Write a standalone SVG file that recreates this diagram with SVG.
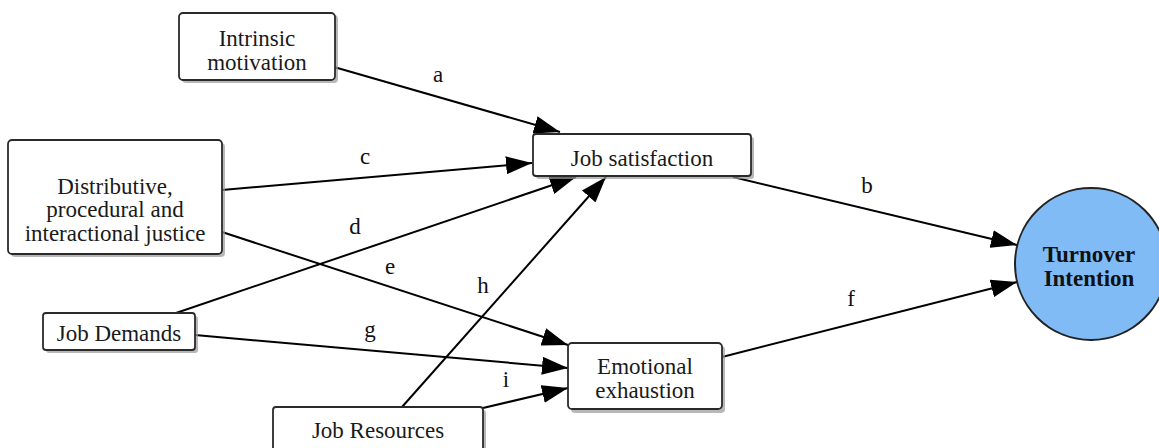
<svg xmlns="http://www.w3.org/2000/svg" width="1159" height="448" viewBox="0 0 1159 448">
<style>
.box{fill:#fff;stroke:#2a2a2a;stroke-width:1.8}
.sh{fill:#9a9a9a;opacity:0.7}
.t{font-family:"Liberation Serif","Times New Roman",serif;font-size:23px;fill:#1a1a1a;text-anchor:middle}
.tb{font-family:"Liberation Serif","Times New Roman",serif;font-size:23px;font-weight:bold;fill:#111;text-anchor:middle}
.lbl{font-family:"Liberation Serif","Times New Roman",serif;font-size:23px;fill:#111;text-anchor:middle}
.edge{stroke:#000;stroke-width:2;fill:none;marker-end:url(#ah)}
</style>
<defs>
<marker id="ah" markerUnits="userSpaceOnUse" markerWidth="26" markerHeight="18" refX="26" refY="9" orient="auto">
<path d="M0,0 L26,9 L0,18 z" fill="#000"/>
</marker>
</defs>
<rect width="1159" height="448" fill="#fff"/>
<g id="connectors">
<line class="edge" x1="334" y1="67" x2="560" y2="132"/>
<text class="lbl" x="438" y="82">a</text>
<line class="edge" x1="222" y1="190" x2="532" y2="163"/>
<text class="lbl" x="365" y="164">c</text>
<line class="edge" x1="176" y1="313" x2="576" y2="177"/>
<text class="lbl" x="355" y="234">d</text>
<line class="edge" x1="222" y1="232" x2="568" y2="345"/>
<text class="lbl" x="390" y="274">e</text>
<line class="edge" x1="402" y1="407" x2="606" y2="177"/>
<text class="lbl" x="483" y="293">h</text>
<line class="edge" x1="195" y1="335" x2="568" y2="368"/>
<text class="lbl" x="370" y="337">g</text>
<line class="edge" x1="483" y1="408" x2="568" y2="388"/>
<text class="lbl" x="506" y="387">i</text>
<line class="edge" x1="733" y1="177" x2="1017" y2="245"/>
<text class="lbl" x="867" y="193">b</text>
<line class="edge" x1="722" y1="357" x2="1017" y2="282"/>
<text class="lbl" x="851" y="306">f</text>
</g>
<g id="intrinsic">
<rect class="sh" x="182" y="15" width="156" height="68" rx="4"/>
<rect class="box" x="179" y="13" width="156" height="67" rx="4"/>
<text class="t" x="257" y="46">Intrinsic</text>
<text class="t" x="257" y="69.5">motivation</text>
</g>
<g id="justice">
<rect class="sh" x="11" y="143" width="214" height="114" rx="4"/>
<rect class="box" x="8" y="140" width="214" height="114" rx="4"/>
<text class="t" x="115" y="194">Distributive,</text>
<text class="t" x="115" y="217">procedural and</text>
<text class="t" x="115" y="240.5">interactional justice</text>
</g>
<g id="jobsatisfaction">
<rect class="sh" x="536" y="137" width="218" height="42" rx="3"/>
<rect class="box" x="533" y="134" width="218" height="42" rx="3"/>
<text class="t" x="642" y="166">Job satisfaction</text>
</g>
<g id="jobdemands">
<rect class="sh" x="46" y="316" width="152" height="37" rx="3"/>
<rect class="box" x="43" y="313" width="152" height="37" rx="3"/>
<text class="t" x="119" y="341">Job Demands</text>
</g>
<g id="emotional">
<rect class="sh" x="571" y="346" width="154" height="67" rx="4"/>
<rect class="box" x="568" y="343" width="154" height="66" rx="4"/>
<text class="t" x="645" y="374">Emotional</text>
<text class="t" x="645" y="397.5">exhaustion</text>
</g>
<g id="jobresources">
<rect class="sh" x="276" y="410" width="210" height="60" rx="3"/>
<rect class="box" x="273" y="407" width="210" height="60" rx="3"/>
<text class="t" x="378" y="438">Job Resources</text>
</g>
<g id="turnover">
<circle cx="1091" cy="264" r="76" fill="#80bbf6" stroke="#222" stroke-width="2"/>
<text class="tb" x="1089" y="262">Turnover</text>
<text class="tb" x="1089" y="285.5">Intention</text>
</g>
</svg>
